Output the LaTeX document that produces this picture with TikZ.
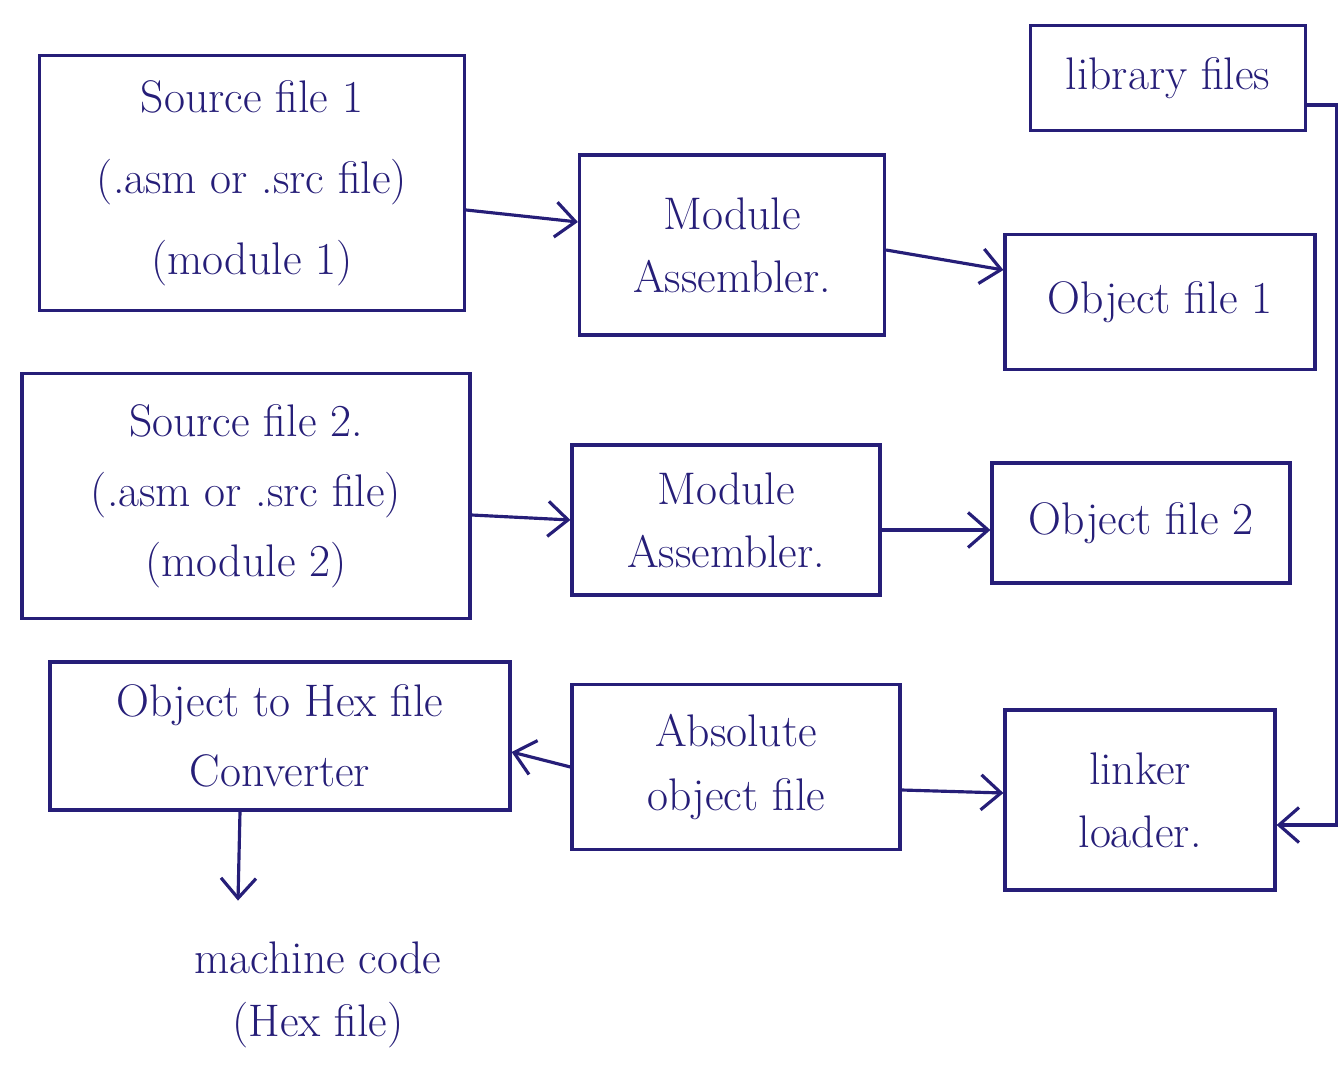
\documentclass[tikz,border=0pt]{standalone}
\usepackage{tikz}
\usetikzlibrary{arrows.meta}
\definecolor{ink}{RGB}{38,30,120}

\begin{document}
\begin{tikzpicture}[
  box/.style = {draw = ink, text = ink, line width = 1.8pt, align = center,
                font = \fontsize{26}{46}\selectfont},
  flow/.style = {draw = ink, line width = 1.8pt,
                 -{Straight Barb[length = 4mm, width = 7mm, line width = 1.8pt]}}
]
\useasboundingbox (0,0) rectangle (26.88,21.32);

\node[box, minimum width = 8.5cm, minimum height = 5.1cm] at (5.04,17.66) (src1) {Source file 1\\
(.asm or .src file)\\
(module 1)};
\node[box, minimum width = 6.1cm, minimum height = 3.6cm,
  font = \fontsize{26}{36}\selectfont] at (14.64,16.42) (asm1) {Module\\
Assembler.};
\node[box, minimum width = 5.5cm, minimum height = 2.1cm] at (23.36,19.76) (lib) {library files};
\node[box, minimum width = 6.2cm, minimum height = 2.7cm] at (23.2,15.28) (obj1) {Object file 1};

\node[box, minimum width = 8.96cm, minimum height = 4.9cm,
  font = \fontsize{26}{40}\selectfont] at (4.92,11.4) (src2) {Source file 2.\\
(.asm or .src file)\\
(module 2)};
\node[box, minimum width = 6.16cm, minimum height = 3cm,
  font = \fontsize{26}{36}\selectfont] at (14.52,10.92) (asm2) {Module\\
Assembler.};
\node[box, minimum width = 5.96cm, minimum height = 2.4cm] at (22.82,10.86) (obj2) {Object file 2};

\node[box, minimum width = 9.2cm, minimum height = 2.96cm,
  font = \fontsize{26}{40}\selectfont] at (5.6,6.6) (conv) {Object to Hex file\\
Converter};
\node[box, minimum width = 6.56cm, minimum height = 3.3cm,
  font = \fontsize{26}{36}\selectfont] at (14.72,5.98) (abs) {Absolute\\
object file};
\node[box, minimum width = 5.4cm, minimum height = 3.6cm,
  font = \fontsize{26}{36}\selectfont] at (22.8,5.32) (link) {linker\\
loader.};
\node[text = ink, align = center, font = \fontsize{26}{36}\selectfont] at (6.36,1.42) (mc) {machine code\\
(Hex file)};

\draw[flow] ([yshift = -0.54cm]src1.east) -- ([yshift = 0.46cm]asm1.west);
\draw[flow] ([yshift = -0.1cm]asm1.east) -- ([yshift = 0.64cm]obj1.west);
\draw[flow] ([yshift = -0.38cm]src2.east) -- (asm2.west);
\draw[flow] ([yshift = -0.2cm]asm2.east) -- ([yshift = -0.14cm]obj2.west);
\draw[flow] ([yshift = -0.46cm]abs.east) -- ([yshift = 0.14cm]link.west);
\draw[flow] (abs.west) -- ([yshift = -0.32cm]conv.east);
\draw[flow] ([xshift = -0.8cm]conv.south) -- ([xshift = -1.6cm, yshift = 0.7cm]mc.north);
\draw[flow] ([yshift = -0.54cm]lib.east) -| ([xshift = 1.2cm, yshift = -0.5cm]link.east)
  -- ([yshift = -0.5cm]link.east);
\end{tikzpicture}
\end{document}
